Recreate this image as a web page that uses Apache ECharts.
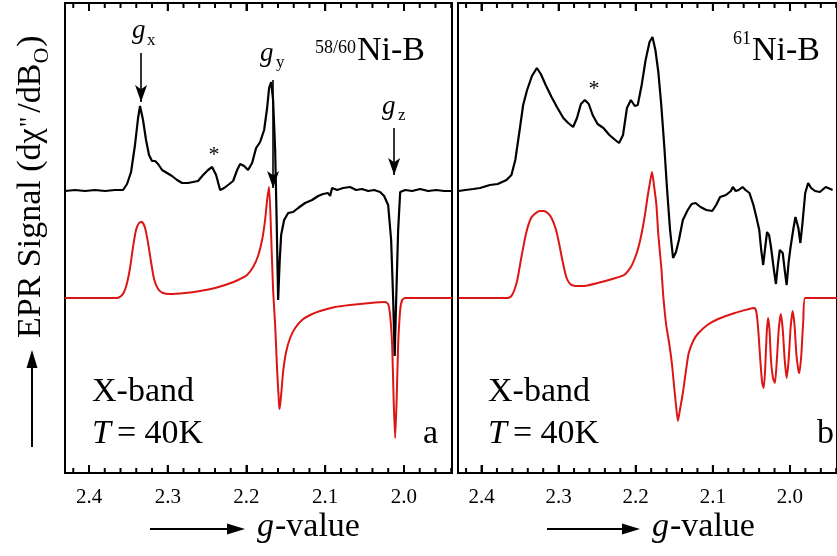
<!DOCTYPE html>
<html>
<head>
<meta charset="utf-8">
<script src="https://cdn.jsdelivr.net/npm/echarts@6/dist/echarts.min.js"></script>
<style>
  html, body { margin: 0; padding: 0; background: #fff; }
  #chart { width: 837px; height: 556px; }
</style>
</head>
<body>
<div id="chart"></div>
<script>
// g-value axis
const X_MIN = 1.939;
const X_MAX = 2.4305;
const Y_MIN = -1.75;
const Y_MAX = 2.95;
const majorTicks = [2.4, 2.3, 2.2, 2.1, 2.0];
const minorTicks = [2.42, 2.38, 2.36, 2.34, 2.32, 2.28, 2.26, 2.24, 2.22, 2.18, 2.16, 2.14, 2.12,
	2.08, 2.06, 2.04, 2.02, 1.98, 1.96, 1.94];

// panel a, 58/60Ni-B : experiment [g, signal]
const expA = [[2.4305,1.07],[2.4178,1.08],[2.4051,1.07],[2.3924,1.08],[2.3797,1.07],[2.3670,1.08],
	[2.3568,1.08],[2.3517,1.14],[2.3466,1.26],[2.3416,1.53],[2.3377,1.80],[2.3352,1.92],[2.3314,1.78],
	[2.3276,1.58],[2.3238,1.43],[2.3200,1.37],[2.3161,1.37],[2.3123,1.34],[2.3072,1.28],[2.3009,1.25],
	[2.2946,1.22],[2.2882,1.18],[2.2818,1.15],[2.2742,1.15],[2.2679,1.16],[2.2615,1.17],[2.2551,1.23],
	[2.2488,1.28],[2.2437,1.31],[2.2386,1.23],[2.2335,1.08],[2.2284,1.10],[2.2234,1.13],[2.2170,1.17],
	[2.2119,1.28],[2.2081,1.34],[2.2030,1.32],[2.1980,1.28],[2.1929,1.35],[2.1878,1.50],[2.1827,1.56],
	[2.1776,1.68],[2.1738,1.90],[2.1713,2.10],[2.1687,2.16],[2.1662,1.98],[2.1636,1.48],[2.1617,0.78],
	[2.1598,-0.02],[2.1579,0.36],[2.1560,0.63],[2.1522,0.78],[2.1471,0.85],[2.1408,0.86],[2.1344,0.90],
	[2.1256,0.95],[2.1167,0.98],[2.1090,1.02],[2.1027,1.04],[2.0964,1.05],[2.0938,1.02],[2.0913,1.10],
	[2.0849,1.08],[2.0773,1.10],[2.0684,1.11],[2.0608,1.08],[2.0532,1.09],[2.0455,1.07],[2.0379,1.08],
	[2.0303,1.06],[2.0252,1.02],[2.0201,0.93],[2.0163,0.58],[2.0137,-0.02],[2.0118,-0.58],[2.0099,-0.02],
	[2.0074,0.68],[2.0048,1.06],[1.9985,1.08],[1.9896,1.07],[1.9795,1.09],[1.9693,1.07],[1.9591,1.08],
	[1.9490,1.07],[1.9389,1.07]];

// panel a : simulation
const simA = [[2.4305,0],[2.3644,0],[2.3593,0.02],[2.3555,0.06],[2.3517,0.15],[2.3479,0.30],[2.3441,0.51],
	[2.3403,0.68],[2.3365,0.75],[2.3327,0.76],[2.3288,0.70],[2.3250,0.55],[2.3212,0.36],[2.3174,0.19],
	[2.3123,0.09],[2.3060,0.05],[2.2971,0.04],[2.2780,0.05],[2.2590,0.07],[2.2399,0.10],[2.2234,0.14],
	[2.2107,0.18],[2.1993,0.23],[2.1916,0.31],[2.1853,0.42],[2.1802,0.58],[2.1764,0.78],[2.1738,0.98],
	[2.1713,1.11],[2.1687,0.63],[2.1662,0.08],[2.1636,-0.27],[2.1611,-0.72],[2.1586,-1.07],[2.1579,-1.11],
	[2.1560,-0.97],[2.1535,-0.74],[2.1497,-0.54],[2.1446,-0.40],[2.1382,-0.30],[2.1294,-0.22],[2.1192,-0.17],
	[2.1065,-0.13],[2.0874,-0.09],[2.0684,-0.07],[2.0430,-0.05],[2.0240,-0.04],[2.0201,-0.06],[2.0176,-0.17],
	[2.0150,-0.47],[2.0131,-1.02],[2.0112,-1.40],[2.0093,-1.02],[2.0074,-0.47],[2.0048,-0.12],[2.0023,-0.02],
	[1.9985,0],[1.9389,0]];

// panel b, 61Ni-B : experiment
const expB = [[2.4299,1.07],[2.4210,1.08],[2.4108,1.09],[2.4019,1.10],[2.3892,1.13],[2.3790,1.14],
	[2.3676,1.18],[2.3612,1.23],[2.3562,1.38],[2.3511,1.65],[2.3460,1.93],[2.3409,2.08],[2.3346,2.22],
	[2.3282,2.30],[2.3231,2.24],[2.3168,2.13],[2.3092,2.01],[2.3015,1.90],[2.2939,1.80],[2.2876,1.75],
	[2.2812,1.71],[2.2762,1.80],[2.2711,1.94],[2.2660,1.98],[2.2609,1.94],[2.2559,1.83],[2.2495,1.74],
	[2.2419,1.70],[2.2342,1.63],[2.2266,1.58],[2.2216,1.55],[2.2165,1.63],[2.2114,1.90],[2.2063,1.98],
	[2.2012,1.92],[2.1974,1.93],[2.1923,2.13],[2.1872,2.38],[2.1821,2.56],[2.1783,2.61],[2.1745,2.48],
	[2.1707,2.26],[2.1669,1.93],[2.1631,1.53],[2.1593,1.08],[2.1555,0.68],[2.1516,0.40],[2.1478,0.46],
	[2.1440,0.58],[2.1389,0.78],[2.1326,0.88],[2.1275,0.94],[2.1224,0.95],[2.1160,0.91],[2.1084,0.88],
	[2.1008,0.87],[2.0957,0.93],[2.0906,1.01],[2.0830,1.03],[2.0766,1.07],[2.0741,1.11],[2.0703,1.07],
	[2.0665,1.08],[2.0614,1.11],[2.0576,1.08],[2.0525,1.05],[2.0474,0.93],[2.0436,0.81],[2.0398,0.68],
	[2.0373,0.48],[2.0347,0.33],[2.0322,0.50],[2.0297,0.66],[2.0271,0.63],[2.0246,0.51],[2.0208,0.28],
	[2.0182,0.14],[2.0157,0.33],[2.0132,0.48],[2.0094,0.45],[2.0068,0.28],[2.0043,0.13],[2.0017,0.36],
	[1.9992,0.51],[1.9954,0.70],[1.9929,0.81],[1.9891,0.70],[1.9865,0.55],[1.9840,0.73],[1.9802,1.05],
	[1.9764,1.15],[1.9726,1.10],[1.9675,1.07],[1.9612,1.06],[1.9536,1.11],[1.9447,1.08]];

// panel b : simulation
const simB = [[2.4299,0],[2.3663,0],[2.3612,0.02],[2.3574,0.08],[2.3536,0.18],[2.3485,0.40],[2.3421,0.65],
	[2.3358,0.80],[2.3295,0.85],[2.3244,0.87],[2.3193,0.87],[2.3142,0.85],[2.3092,0.80],[2.3041,0.70],
	[2.3003,0.58],[2.2952,0.38],[2.2901,0.21],[2.2850,0.14],[2.2787,0.12],[2.2685,0.12],[2.2495,0.15],
	[2.2304,0.19],[2.2151,0.23],[2.2063,0.31],[2.1987,0.45],[2.1936,0.60],[2.1885,0.81],[2.1847,1.01],
	[2.1821,1.13],[2.1789,1.26],[2.1764,1.13],[2.1732,0.93],[2.1707,0.63],[2.1669,0.31],[2.1643,0.02],
	[2.1605,-0.27],[2.1567,-0.45],[2.1529,-0.67],[2.1503,-0.88],[2.1478,-1.07],[2.1453,-1.23],[2.1427,-1.12],
	[2.1389,-0.95],[2.1351,-0.74],[2.1313,-0.55],[2.1249,-0.42],[2.1186,-0.35],[2.1071,-0.27],[2.0931,-0.21],
	[2.0715,-0.15],[2.0461,-0.10],[2.0436,-0.14],[2.0411,-0.32],[2.0385,-0.62],[2.0360,-0.85],[2.0341,-0.90],
	[2.0322,-0.72],[2.0303,-0.37],[2.0284,-0.20],[2.0265,-0.32],[2.0246,-0.62],[2.0220,-0.80],[2.0195,-0.85],
	[2.0170,-0.62],[2.0144,-0.30],[2.0119,-0.16],[2.0093,-0.32],[2.0068,-0.62],[2.0043,-0.80],[2.0017,-0.62],
	[1.9992,-0.30],[1.9966,-0.13],[1.9941,-0.27],[1.9916,-0.57],[1.9891,-0.72],[1.9878,-0.75],[1.9853,-0.57],
	[1.9827,-0.22],[1.9802,0],[1.9383,0]];

// g_x, g_y, g_z arrows : [g, from, to]
const arrowsA = [[2.3339, 2.45, 1.96], [2.1662, 2.18, 1.10], [2.0125, 1.70, 1.23]];

const FONT = '"Liberation Serif", "Times New Roman", serif';
const ctx = document.createElement('canvas').getContext('2d');
function fontStr(size, italic) {
	return (italic ? 'italic ' : '') + size + 'px ' + FONT;
}
function tw(text, size, italic) {
	ctx.font = fontStr(size, italic);
	return ctx.measureText(text).width;
}
// text placed by its baseline
function txt(x, base, text, size, italic, align) {
	return {
		type: 'text',
		x: x,
		y: base - 0.34 * size,
		silent: true,
		style: {
			text: text,
			font: fontStr(size, italic),
			fill: '#000',
			align: align || 'left',
			verticalAlign: 'middle',
			textAlign: align || 'left',
			textVerticalAlign: 'middle',
		},
	};
}
function arrow(x1, y1, x2, y2) {
	const len = 18, hw = 5.5;
	const dx = x2 - x1, dy = y2 - y1;
	const d = Math.sqrt(dx * dx + dy * dy);
	const ux = dx / d, uy = dy / d;
	const bx = x2 - ux * len, by = y2 - uy * len;
	return [
		{ type: 'line', silent: true, shape: { x1: x1, y1: y1, x2: bx + ux * 2, y2: by + uy * 2 }, style: { stroke: '#000', lineWidth: 2 } },
		{ type: 'polygon', silent: true, shape: { points: [[x2, y2], [bx - uy * hw, by + ux * hw], [bx + uy * hw, by - ux * hw]] }, style: { fill: '#000' } },
	];
}

// axis line drawn on the frame edge, major ticks pointing inward
function xAx(grid, pos, labels) {
	return {
		type: 'value',
		gridIndex: grid,
		position: pos,
		min: X_MIN,
		max: X_MAX,
		inverse: true,
		axisLine: { show: true, onZero: false, lineStyle: { color: '#000', width: 2 } },
		splitLine: { show: false },
		axisTick: {
			show: true,
			inside: true,
			length: 8,
			customValues: majorTicks,
			lineStyle: { color: '#000', width: 2 },
		},
		axisLabel: {
			show: labels,
			customValues: majorTicks,
			margin: 14,
			color: '#000',
			fontFamily: FONT,
			fontSize: 21,
			formatter: (v) => v.toFixed(1),
		},
	};
}
function yAx(grid) {
	return { type: 'value', gridIndex: grid, min: Y_MIN, max: Y_MAX, show: false };
}

// minor (and major) inward ticks on both frame edges: [g, 0, length]
const tickData = majorTicks.map((g) => [g, 0, 8]).concat(minorTicks.map((g) => [g, 0, 5]));
function tickSeries(grid) {
	return {
		type: 'custom',
		xAxisIndex: grid * 2,
		yAxisIndex: grid,
		silent: true,
		data: tickData,
		encode: { x: 0, y: 1 },
		renderItem: (params, api) => {
			const g = api.value(0);
			const len = api.value(2);
			const pb = api.coord([g, Y_MIN]);
			const pt = api.coord([g, Y_MAX]);
			const st = { stroke: '#000', lineWidth: 2 };
			return {
				type: 'group',
				children: [
					{ type: 'line', shape: { x1: pb[0], y1: pb[1], x2: pb[0], y2: pb[1] - len }, style: st },
					{ type: 'line', shape: { x1: pt[0], y1: pt[1], x2: pt[0], y2: pt[1] + len }, style: st },
				],
			};
		},
	};
}

let graphics = [];
// panel a labels
graphics.push(txt(132, 40, 'g', 27, true), txt(147, 46, 'x', 17, false));
graphics.push(txt(260, 63, 'g', 27, true), txt(276, 68, 'y', 17, false));
graphics.push(txt(382, 116, 'g', 27, true), txt(398, 121, 'z', 17, false));
graphics.push(txt(214, 163, '*', 22, false, 'center'));
graphics.push(txt(356, 54, '58/60', 18, false, 'right'), txt(357, 63, 'Ni-B', 34, false));
// panel b labels
graphics.push(txt(594, 97, '*', 22, false, 'center'));
graphics.push(txt(751, 45, '61', 18, false, 'right'), txt(752, 63, 'Ni-B', 34, false));
[92, 488].forEach((x0) => {
	graphics.push(txt(x0, 404, 'X-band', 34, false));
	graphics.push(txt(x0, 446, 'T', 34, true));
	graphics.push(txt(x0 + tw('T', 34, true) + 6, 446, '= 40K', 34, false));
});
graphics.push(txt(423, 446, 'a', 34, false), txt(817, 446, 'b', 34, false));
// x titles
[[150, 245, 257], [547, 640, 652]].forEach((a) => {
	graphics = graphics.concat(arrow(a[0], 529, a[1], 529));
	graphics.push(txt(a[2], 539, 'g', 34, true));
	graphics.push(txt(a[2] + tw('g', 34, true) + 1, 539, '-value', 34, false));
});
graphics = graphics.concat(arrow(32, 447, 32, 350));

// y title, rotated to read upward
const kids = [];
let lx = 0;
const p1 = 'EPR Signal (d\u03c7';
kids.push(txt(lx, 0, p1, 34, false));
lx += tw(p1, 34, false) + 1;
kids.push(txt(lx, -4, '"', 26, false));
lx += tw('"', 26, false) + 4;
kids.push(txt(lx, 0, '/dB', 34, false));
lx += tw('/dB', 34, false);
kids.push(txt(lx, 7, 'O', 22, false));
lx += tw('O', 22, false) + 1;
kids.push(txt(lx, 0, ')', 34, false));
graphics.push({ type: 'group', x: 43, y: 338, rotation: Math.PI / 2, children: kids });

const chart = echarts.init(document.getElementById('chart'));
chart.setOption({
	animation: false,
	grid: [
		{ left: 65, top: 3, width: 387, height: 470, show: true, borderColor: '#000', borderWidth: 2 },
		{ left: 458, top: 3, width: 387, height: 470, show: true, borderColor: '#000', borderWidth: 2 },
	],
	xAxis: [xAx(0, 'bottom', true), xAx(0, 'top', false), xAx(1, 'bottom', true), xAx(1, 'top', false)],
	yAxis: [yAx(0), yAx(1)],
	series: [
		tickSeries(0),
		tickSeries(1),
		{
			name: 'sim a', type: 'line', xAxisIndex: 0, yAxisIndex: 0, data: simA,
			showSymbol: false, smooth: 0.2, lineStyle: { color: '#dd1515', width: 2 },
		},
		{
			name: 'exp a', type: 'line', xAxisIndex: 0, yAxisIndex: 0, data: expA,
			showSymbol: false, lineStyle: { color: '#000', width: 2.2 },
			markLine: {
				silent: true,
				animation: false,
				symbol: ['none', 'arrow'],
				symbolSize: [9, 17],
				label: { show: false },
				lineStyle: { color: '#000', width: 1.6, type: 'solid' },
				data: arrowsA.map((a) => [{ coord: [a[0], a[1]] }, { coord: [a[0], a[2]] }]),
			},
		},
		{
			name: 'sim b', type: 'line', xAxisIndex: 2, yAxisIndex: 1, data: simB,
			showSymbol: false, smooth: 0.2, lineStyle: { color: '#dd1515', width: 2 },
		},
		{
			name: 'exp b', type: 'line', xAxisIndex: 2, yAxisIndex: 1, data: expB,
			showSymbol: false, lineStyle: { color: '#000', width: 2.2 },
		},
	],
	graphic: graphics,
});
</script>
</body>
</html>
